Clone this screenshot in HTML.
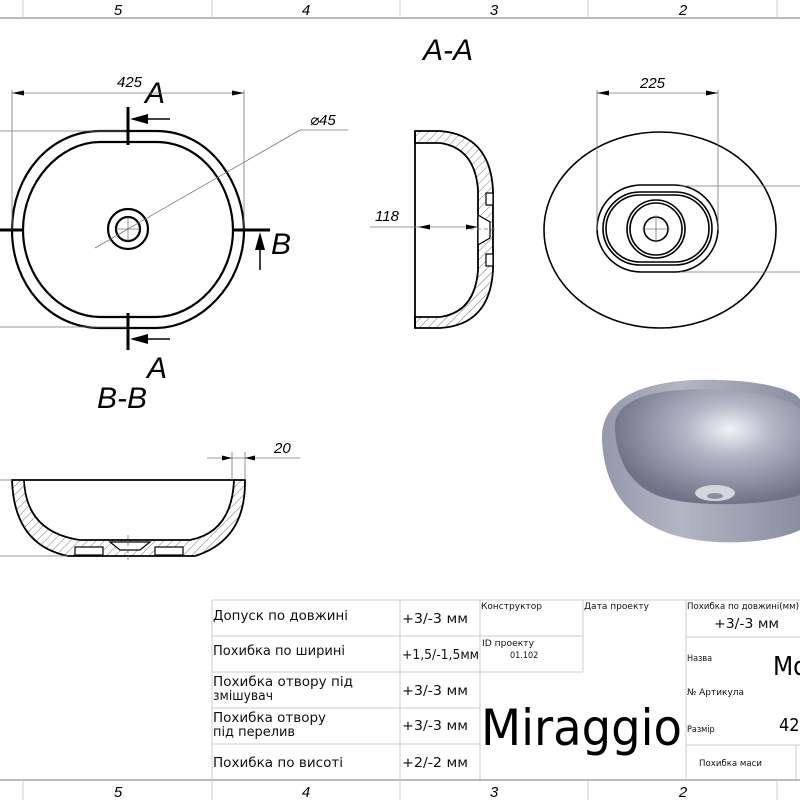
<!DOCTYPE html>
<html><head><meta charset="utf-8"><style>
html,body{margin:0;padding:0;background:#fff;}
svg{display:block;}
.t{font-family:"Liberation Sans","DejaVu Sans",sans-serif;}
.iso{font-family:"DejaVu Sans Condensed","Liberation Sans Narrow","Liberation Sans",sans-serif;}
</style></head><body>
<svg width="800" height="800" viewBox="0 0 800 800" xmlns="http://www.w3.org/2000/svg">
<defs>
<pattern id="h" width="6" height="6" patternUnits="userSpaceOnUse" patternTransform="rotate(45)">
<line x1="0" y1="0" x2="0" y2="6" stroke="#555" stroke-width="0.8"/></pattern>
<radialGradient id="g1" cx="0.62" cy="0.35" r="0.65">
<stop offset="0" stop-color="#f2f3f7"/><stop offset="0.35" stop-color="#b4b7c6"/><stop offset="1" stop-color="#6f7387"/></radialGradient>
<linearGradient id="g2" x1="0" y1="0" x2="1" y2="0">
<stop offset="0" stop-color="#9598aa"/><stop offset="0.4" stop-color="#b3b6c4"/><stop offset="1" stop-color="#8a8ea0"/></linearGradient>
</defs>

<line x1="0" y1="18" x2="800" y2="18" stroke="#bbb" stroke-width="2"/>
<g stroke="#ccc" stroke-width="1">
<line x1="23" y1="0" x2="23" y2="18"/><line x1="212" y1="0" x2="212" y2="18"/>
<line x1="400" y1="0" x2="400" y2="18"/><line x1="588" y1="0" x2="588" y2="18"/><line x1="777" y1="0" x2="777" y2="18"/>
</g>
<g class="t" font-size="15" font-style="italic" text-anchor="middle">
<text x="118" y="15">5</text><text x="306" y="15">4</text><text x="494" y="15">3</text><text x="683" y="15">2</text>
</g>

<g class="t" font-style="italic" font-size="30">
<text x="423" y="60">A-A</text>
<text x="97" y="408">B-B</text>
<text x="145" y="103">A</text>
<text x="147" y="378">A</text>
<text x="271" y="254">B</text>
</g>

<g fill="none" stroke="#000" stroke-width="2.2">
<path d="M100,131 L156,131 C215,131 244,190 244,230 C244,285 200,328 156,328 L100,328 C50,328 12,285 12,230 C12,175 50,131 100,131 Z"/>
<path d="M100,142 L156,142 C205,142 233,190 233,230 C233,278 195,317 156,317 L100,317 C60,317 23,278 23,230 C23,182 60,142 100,142 Z"/>
<circle cx="128" cy="229" r="20"/><circle cx="128" cy="229" r="12"/>
</g>
<g stroke="#777" stroke-width="0.8" fill="none">
<line x1="12" y1="90" x2="12" y2="230"/><line x1="244" y1="90" x2="244" y2="230"/>
<line x1="12" y1="93" x2="244" y2="93"/>
<line x1="0" y1="131" x2="128" y2="131"/><line x1="0" y1="327" x2="128" y2="327"/>
<line x1="95" y1="248" x2="300" y2="130"/><line x1="300" y1="130" x2="348" y2="130"/>
<line x1="116" y1="229" x2="140" y2="229"/><line x1="128" y1="217" x2="128" y2="241"/>
</g>
<path d="M12,93 l12,-2.5 v5z M244,93 l-12,-2.5 v5z" fill="#000"/>
<g class="t" font-style="italic" font-size="15">
<text x="117" y="87">425</text><text x="310" y="125">⌀45</text>
</g>
<g stroke="#000" stroke-width="3" fill="none">
<line x1="128" y1="107" x2="128" y2="145"/><line x1="128" y1="313" x2="128" y2="350"/>
<line x1="234" y1="230" x2="270" y2="230"/><line x1="0" y1="230" x2="22" y2="230"/>
</g>
<g stroke="#000" stroke-width="1.5"><line x1="135" y1="119" x2="170" y2="119"/><line x1="135" y1="339" x2="170" y2="339"/><line x1="260" y1="236" x2="260" y2="270"/></g>
<path d="M130,119 l18,-5 v10z M130,339 l18,-5 v10z M260,232 l-5,18 h10z" fill="#000"/>

<path d="M415,131 L440,131 Q490,135 493,190 L493,270 Q490,325 440,328 L415,328 L415,317 L440,317 Q475,312 478,270 L478,190 Q475,148 440,143 L415,143 Z" fill="url(#h)" stroke="#000" stroke-width="1.8"/>
<line x1="415" y1="131" x2="415" y2="328" stroke="#000" stroke-width="1.8"/>
<g fill="#fff" stroke="#000" stroke-width="1.2">
<rect x="486" y="193" width="7" height="12"/><rect x="486" y="254" width="7" height="12"/>
<path d="M478,215 L490,222 L490,238 L478,245 Z"/></g>
<g stroke="#777" stroke-width="0.8"><line x1="370" y1="227" x2="478" y2="227"/><line x1="470" y1="229" x2="498" y2="229" stroke-dasharray="4 3"/></g>
<path d="M418,227 l12,-2.5 v5z M478,227 l-12,-2.5 v5z" fill="#000"/>
<text class="t" font-style="italic" font-size="15" x="375" y="221">118</text>

<g fill="none" stroke="#000" stroke-width="1.6">
<ellipse cx="660" cy="230" rx="116" ry="98"/>
<rect x="597" y="185" width="121" height="87" rx="44"/>
<rect x="603" y="192" width="109" height="73" rx="37"/>
<rect x="606" y="195" width="103" height="67" rx="34"/>
<circle cx="656" cy="229" r="29"/><circle cx="656" cy="229" r="26"/>
<circle cx="656" cy="229" r="12"/>
</g>
<g stroke="#777" stroke-width="0.8">
<line x1="597" y1="90" x2="597" y2="230"/><line x1="718" y1="90" x2="718" y2="230"/>
<line x1="597" y1="93" x2="718" y2="93"/>
<line x1="680" y1="186" x2="800" y2="186"/><line x1="680" y1="272" x2="800" y2="272"/>
<line x1="642" y1="229" x2="670" y2="229"/><line x1="656" y1="215" x2="656" y2="243"/>
</g>
<path d="M597,93 l12,-2.5 v5z M718,93 l-12,-2.5 v5z" fill="#000"/>
<text class="t" font-style="italic" font-size="15" x="640" y="88">225</text>

<path d="M12,480 L245,480 Q246,540 195,556 L68,556 Q14,545 12,480 Z M24,480 Q26,532 80,540 L190,540 Q232,532 234,480 Z" fill="url(#h)" fill-rule="evenodd" stroke="#000" stroke-width="1.8"/>
<g fill="#fff" stroke="#000" stroke-width="1.2">
<rect x="75" y="547" width="28" height="8"/><rect x="155" y="547" width="28" height="8"/>
<path d="M110,542 L120,550 L140,550 L150,542 Z"/></g>
<line x1="128" y1="535" x2="128" y2="560" stroke="#777" stroke-width="0.8" stroke-dasharray="4 3"/>
<g stroke="#777" stroke-width="0.8">
<line x1="232" y1="452" x2="232" y2="480"/><line x1="245" y1="452" x2="245" y2="480"/>
<line x1="207" y1="458" x2="300" y2="458"/>
<line x1="0" y1="480" x2="12" y2="480"/><line x1="0" y1="556" x2="68" y2="556"/>
</g>
<path d="M232,458 l-10,-2.5 v5z M245,458 l10,-2.5 v5z" fill="#000"/>
<text class="t" font-style="italic" font-size="15" x="274" y="453">20</text>

<path d="M602,440 C600,390 660,378 720,380 C780,382 800,395 800,400 L800,530 C770,545 700,548 660,530 C620,512 604,480 602,440 Z" fill="url(#g2)"/>
<path d="M615,430 C612,395 665,387 720,390 C775,393 800,405 800,410 L800,495 C770,505 700,508 665,498 C630,488 617,460 615,430 Z" fill="url(#g1)"/>
<ellipse cx="715" cy="493" rx="20" ry="8" fill="#d4d6de"/>
<ellipse cx="715" cy="496" rx="8" ry="3" fill="#8a8d9c"/>

<g stroke="#ccc" stroke-width="1" fill="none">
<line x1="212" y1="600" x2="800" y2="600"/>
<line x1="212" y1="636" x2="583" y2="636"/>
<line x1="212" y1="672" x2="583" y2="672"/>
<line x1="212" y1="708" x2="480" y2="708"/>
<line x1="212" y1="744" x2="480" y2="744"/>
<line x1="686" y1="637" x2="800" y2="637"/>
<line x1="686" y1="745" x2="800" y2="745"/>
<line x1="212" y1="600" x2="212" y2="780"/>
<line x1="400" y1="600" x2="400" y2="780"/>
<line x1="480" y1="600" x2="480" y2="780"/>
<line x1="583" y1="600" x2="583" y2="672"/>
<line x1="686" y1="600" x2="686" y2="780"/>
<line x1="796" y1="745" x2="796" y2="780"/>
</g>
<g class="iso" font-size="13" fill="#111">
<text x="213" y="620" textLength="135" lengthAdjust="spacingAndGlyphs">Допуск по довжині</text>
<text x="213" y="655" textLength="132" lengthAdjust="spacingAndGlyphs">Похибка по ширині</text>
<text x="213" y="686" textLength="140" lengthAdjust="spacingAndGlyphs">Похибка отвору під</text>
<text x="213" y="700" textLength="60" lengthAdjust="spacingAndGlyphs">змішувач</text>
<text x="213" y="722" textLength="113" lengthAdjust="spacingAndGlyphs">Похибка отвору</text>
<text x="213" y="736" textLength="82" lengthAdjust="spacingAndGlyphs">під перелив</text>
<text x="213" y="767" textLength="130" lengthAdjust="spacingAndGlyphs">Похибка по висоті</text>
<text x="402" y="623" textLength="66" lengthAdjust="spacingAndGlyphs">+3/-3 мм</text>
<text x="402" y="659" textLength="77" lengthAdjust="spacingAndGlyphs">+1,5/-1,5мм</text>
<text x="402" y="695" textLength="66" lengthAdjust="spacingAndGlyphs">+3/-3 мм</text>
<text x="402" y="730" textLength="66" lengthAdjust="spacingAndGlyphs">+3/-3 мм</text>
<text x="402" y="767" textLength="66" lengthAdjust="spacingAndGlyphs">+2/-2 мм</text>
<text x="714" y="628" textLength="65" lengthAdjust="spacingAndGlyphs">+3/-3 мм</text>
</g>
<g class="iso" font-size="9" fill="#111">
<text x="481" y="609" textLength="61" lengthAdjust="spacingAndGlyphs">Конструктор</text>
<text x="584" y="609" textLength="65" lengthAdjust="spacingAndGlyphs">Дата проекту</text>
<text x="482" y="646" textLength="52" lengthAdjust="spacingAndGlyphs">ID проекту</text>
<text x="510" y="658">01.102</text>
<text x="687" y="609" textLength="112" lengthAdjust="spacingAndGlyphs">Похибка по довжині(мм)</text>
<text x="687" y="661">Назва</text>
<text x="687" y="695" textLength="57" lengthAdjust="spacingAndGlyphs">№ Артикула</text>
<text x="687" y="732">Размір</text>
<text x="699" y="766" textLength="63" lengthAdjust="spacingAndGlyphs">Похибка маси</text>
</g>
<text class="iso" font-size="50" x="481" y="745" textLength="201" lengthAdjust="spacingAndGlyphs">Miraggio</text>
<text class="iso" font-size="26" x="773" y="675">Mo</text>
<text class="iso" font-size="18" x="779" y="731">425</text>

<line x1="0" y1="780" x2="800" y2="780" stroke="#bbb" stroke-width="2"/>
<g stroke="#ccc" stroke-width="1">
<line x1="23" y1="780" x2="23" y2="800"/><line x1="212" y1="780" x2="212" y2="800"/>
<line x1="400" y1="780" x2="400" y2="800"/><line x1="588" y1="780" x2="588" y2="800"/><line x1="777" y1="780" x2="777" y2="800"/>
</g>
<g class="t" font-size="15" font-style="italic" text-anchor="middle">
<text x="118" y="797">5</text><text x="306" y="797">4</text><text x="494" y="797">3</text><text x="683" y="797">2</text>
</g>
</svg>
</body></html>
